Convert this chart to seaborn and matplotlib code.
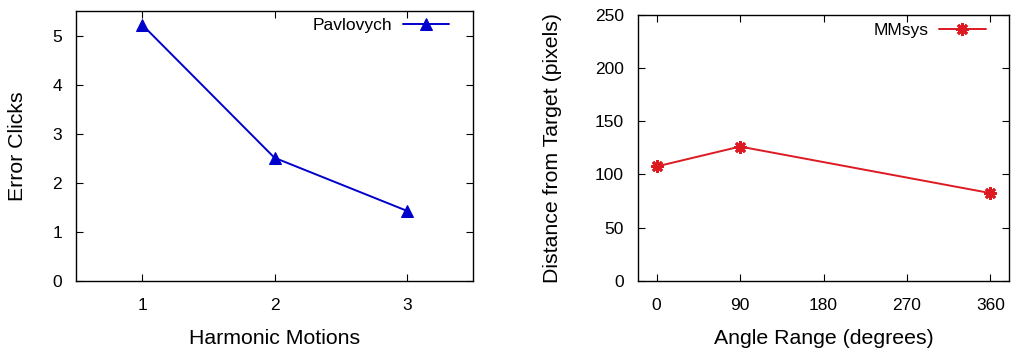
import matplotlib
matplotlib.use("Agg")
import matplotlib.pyplot as plt
import seaborn as sns
import pandas as pd

harmonic = [1, 2, 3]
error_clicks = [5.22, 2.51, 1.43]
angle = [0, 90, 360]
distance = [107.5, 126.2, 82.5]
left_yticks = [0, 1, 2, 3, 4, 5]
right_xticks = [0, 90, 180, 270, 360]
right_yticks = [0, 50, 100, 150, 200, 250]

sns.set_theme(style="ticks")
plt.rcParams['font.family'] = ['Liberation Sans', 'DejaVu Sans']
plt.rcParams['text.color'] = 'black'

fig = plt.figure(figsize=(10.15, 3.49), dpi=100)
ax1 = fig.add_axes([76/1015, 1-281/349, (473-76)/1015, (281-11)/349])
ax2 = fig.add_axes([638/1015, 1-281/349, (1009-638)/1015, (281-14.7)/349])

df1 = pd.DataFrame({"x": harmonic, "y": error_clicks})
df2 = pd.DataFrame({"x": angle, "y": distance})

sns.lineplot(data=df1, x="x", y="y", ax=ax1, color="#0000cc", marker="^",
             markersize=8, markeredgecolor="#0000cc", linewidth=1.4, label="Pavlovych")
sns.lineplot(data=df2, x="x", y="y", ax=ax2, color="#dd1a22", marker=(8, 2, 0),
             markersize=9, markeredgewidth=2.0, markeredgecolor="#dd1a22",
             linewidth=1.4, label="MMsys")

ax1.set_xlim(0.5, 3.5)
ax1.set_ylim(0, 5.5)
ax1.set_xticks(harmonic)
ax1.set_yticks(left_yticks)
ax1.set_xlabel("Harmonic Motions", fontsize=15.3, labelpad=11, color="black")
ax1.set_ylabel("Error Clicks", fontsize=15.3, labelpad=18.5, color="black")

ax2.set_xlim(-20, 380)
ax2.set_ylim(0, 250)
ax2.set_xticks(right_xticks)
ax2.set_yticks(right_yticks)
ax2.set_xlabel("Angle Range (degrees)", fontsize=15.3, labelpad=11, color="black")
ax2.set_ylabel("Distance from Target (pixels)", fontsize=15.3, labelpad=24, color="black")

for ax, top in ((ax1, 0.975), (ax2, 0.97)):
    for s in ax.spines.values():
        s.set_visible(True)
        s.set_linewidth(1.0)
        s.set_color("black")
    ax.tick_params(direction="in", top=True, right=True, length=5, width=0.8,
                   labelsize=12.5, colors="black")
    ax.tick_params(axis="x", pad=12.5)
    ax.tick_params(axis="y", pad=10)
    w_px = ax.get_position().width * 1015
    ax.legend(loc="upper right", bbox_to_anchor=(1 - 23.5 / w_px, top),
              frameon=False, markerfirst=False, fontsize=12.5, borderpad=0,
              borderaxespad=0, handlelength=2.65, handletextpad=0.63)

fig.savefig("out.png", dpi=100)
